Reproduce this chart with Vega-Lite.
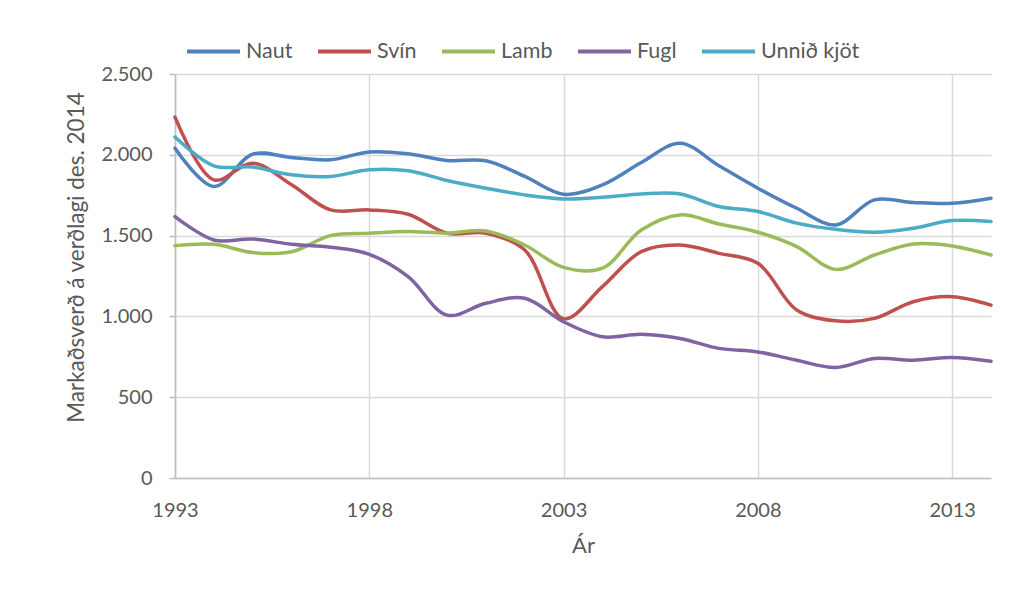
{
  "$schema": "https://vega.github.io/schema/vega-lite/v6.json",
  "width": 816,
  "height": 404,
  "autosize": {"type": "none"},
  "padding": {"left": 175, "top": 74, "right": 26, "bottom": 137},
  "background": "white",
  "config": {
    "locale": {"number": {"decimal": ",", "thousands": ".", "grouping": [3], "currency": ["", ""]}},
    "view": {"stroke": null},
    "font": "Lato"
  },
  "data": {
    "values": [
      {"year": 1993, "type": "Naut", "value": 2041},
      {"year": 1994, "type": "Naut", "value": 1804},
      {"year": 1995, "type": "Naut", "value": 2004},
      {"year": 1996, "type": "Naut", "value": 1983},
      {"year": 1997, "type": "Naut", "value": 1969},
      {"year": 1998, "type": "Naut", "value": 2017},
      {"year": 1999, "type": "Naut", "value": 2006},
      {"year": 2000, "type": "Naut", "value": 1965},
      {"year": 2001, "type": "Naut", "value": 1963},
      {"year": 2002, "type": "Naut", "value": 1866},
      {"year": 2003, "type": "Naut", "value": 1756},
      {"year": 2004, "type": "Naut", "value": 1814},
      {"year": 2005, "type": "Naut", "value": 1952},
      {"year": 2006, "type": "Naut", "value": 2072},
      {"year": 2007, "type": "Naut", "value": 1932},
      {"year": 2008, "type": "Naut", "value": 1793},
      {"year": 2009, "type": "Naut", "value": 1669},
      {"year": 2010, "type": "Naut", "value": 1566},
      {"year": 2011, "type": "Naut", "value": 1721},
      {"year": 2012, "type": "Naut", "value": 1705},
      {"year": 2013, "type": "Naut", "value": 1700},
      {"year": 2014, "type": "Naut", "value": 1731},
      {"year": 1993, "type": "Svín", "value": 2233},
      {"year": 1994, "type": "Svín", "value": 1845},
      {"year": 1995, "type": "Svín", "value": 1948},
      {"year": 1996, "type": "Svín", "value": 1815},
      {"year": 1997, "type": "Svín", "value": 1659},
      {"year": 1998, "type": "Svín", "value": 1659},
      {"year": 1999, "type": "Svín", "value": 1632},
      {"year": 2000, "type": "Svín", "value": 1515},
      {"year": 2001, "type": "Svín", "value": 1515},
      {"year": 2002, "type": "Svín", "value": 1411},
      {"year": 2003, "type": "Svín", "value": 985},
      {"year": 2004, "type": "Svín", "value": 1184},
      {"year": 2005, "type": "Svín", "value": 1401},
      {"year": 2006, "type": "Svín", "value": 1442},
      {"year": 2007, "type": "Svín", "value": 1390},
      {"year": 2008, "type": "Svín", "value": 1329},
      {"year": 2009, "type": "Svín", "value": 1040},
      {"year": 2010, "type": "Svín", "value": 973},
      {"year": 2011, "type": "Svín", "value": 988},
      {"year": 2012, "type": "Svín", "value": 1091},
      {"year": 2013, "type": "Svín", "value": 1122},
      {"year": 2014, "type": "Svín", "value": 1070},
      {"year": 1993, "type": "Lamb", "value": 1438},
      {"year": 1994, "type": "Lamb", "value": 1446},
      {"year": 1995, "type": "Lamb", "value": 1395},
      {"year": 1996, "type": "Lamb", "value": 1400},
      {"year": 1997, "type": "Lamb", "value": 1500},
      {"year": 1998, "type": "Lamb", "value": 1515},
      {"year": 1999, "type": "Lamb", "value": 1525},
      {"year": 2000, "type": "Lamb", "value": 1515},
      {"year": 2001, "type": "Lamb", "value": 1529},
      {"year": 2002, "type": "Lamb", "value": 1442},
      {"year": 2003, "type": "Lamb", "value": 1303},
      {"year": 2004, "type": "Lamb", "value": 1298},
      {"year": 2005, "type": "Lamb", "value": 1535},
      {"year": 2006, "type": "Lamb", "value": 1628},
      {"year": 2007, "type": "Lamb", "value": 1572},
      {"year": 2008, "type": "Lamb", "value": 1521},
      {"year": 2009, "type": "Lamb", "value": 1432},
      {"year": 2010, "type": "Lamb", "value": 1291},
      {"year": 2011, "type": "Lamb", "value": 1380},
      {"year": 2012, "type": "Lamb", "value": 1448},
      {"year": 2013, "type": "Lamb", "value": 1436},
      {"year": 2014, "type": "Lamb", "value": 1380},
      {"year": 1993, "type": "Fugl", "value": 1618},
      {"year": 1994, "type": "Fugl", "value": 1473},
      {"year": 1995, "type": "Fugl", "value": 1479},
      {"year": 1996, "type": "Fugl", "value": 1446},
      {"year": 1997, "type": "Fugl", "value": 1428},
      {"year": 1998, "type": "Fugl", "value": 1384},
      {"year": 1999, "type": "Fugl", "value": 1246},
      {"year": 2000, "type": "Fugl", "value": 1008},
      {"year": 2001, "type": "Fugl", "value": 1081},
      {"year": 2002, "type": "Fugl", "value": 1112},
      {"year": 2003, "type": "Fugl", "value": 967},
      {"year": 2004, "type": "Fugl", "value": 874},
      {"year": 2005, "type": "Fugl", "value": 890},
      {"year": 2006, "type": "Fugl", "value": 863},
      {"year": 2007, "type": "Fugl", "value": 802},
      {"year": 2008, "type": "Fugl", "value": 780},
      {"year": 2009, "type": "Fugl", "value": 729},
      {"year": 2010, "type": "Fugl", "value": 684},
      {"year": 2011, "type": "Fugl", "value": 740},
      {"year": 2012, "type": "Fugl", "value": 729},
      {"year": 2013, "type": "Fugl", "value": 746},
      {"year": 2014, "type": "Fugl", "value": 723},
      {"year": 1993, "type": "Unnið kjöt", "value": 2110},
      {"year": 1994, "type": "Unnið kjöt", "value": 1932},
      {"year": 1995, "type": "Unnið kjöt", "value": 1924},
      {"year": 1996, "type": "Unnið kjöt", "value": 1876},
      {"year": 1997, "type": "Unnið kjöt", "value": 1866},
      {"year": 1998, "type": "Unnið kjöt", "value": 1907},
      {"year": 1999, "type": "Unnið kjöt", "value": 1901},
      {"year": 2000, "type": "Unnið kjöt", "value": 1841},
      {"year": 2001, "type": "Unnið kjöt", "value": 1793},
      {"year": 2002, "type": "Unnið kjöt", "value": 1752},
      {"year": 2003, "type": "Unnið kjöt", "value": 1727},
      {"year": 2004, "type": "Unnið kjöt", "value": 1737},
      {"year": 2005, "type": "Unnið kjöt", "value": 1758},
      {"year": 2006, "type": "Unnið kjöt", "value": 1758},
      {"year": 2007, "type": "Unnið kjöt", "value": 1680},
      {"year": 2008, "type": "Unnið kjöt", "value": 1649},
      {"year": 2009, "type": "Unnið kjöt", "value": 1577},
      {"year": 2010, "type": "Unnið kjöt", "value": 1539},
      {"year": 2011, "type": "Unnið kjöt", "value": 1521},
      {"year": 2012, "type": "Unnið kjöt", "value": 1546},
      {"year": 2013, "type": "Unnið kjöt", "value": 1593},
      {"year": 2014, "type": "Unnið kjöt", "value": 1587}
    ]
  },
  "mark": {"type": "line", "interpolate": "catmull-rom", "strokeWidth": 3.5, "strokeCap": "round"},
  "encoding": {
    "x": {
      "field": "year",
      "type": "quantitative",
      "title": "Ár",
      "scale": {"domain": [1993, 2014], "nice": false, "zero": false},
      "axis": {
        "values": [1993, 1998, 2003, 2008, 2013],
        "format": "d",
        "grid": true,
        "gridColor": "#D9D9D9",
        "gridWidth": 1.5,
        "domainColor": "#BFBFBF",
        "domainWidth": 1.5,
        "ticks": false,
        "labelFlush": false,
        "labelPadding": 22,
        "labelFontSize": 20,
        "labelColor": "#595959",
        "titleFontSize": 22,
        "titleFontWeight": "normal",
        "titleColor": "#595959",
        "titlePadding": 15
      }
    },
    "y": {
      "field": "value",
      "type": "quantitative",
      "title": "Markaðsverð á verðlagi des. 2014",
      "scale": {"domain": [0, 2500], "nice": false},
      "axis": {
        "values": [0, 500, 1000, 1500, 2000, 2500],
        "format": ",d",
        "grid": true,
        "gridColor": "#D9D9D9",
        "gridWidth": 1.5,
        "domainColor": "#BFBFBF",
        "domainWidth": 1.5,
        "tickColor": "#BFBFBF",
        "tickSize": 6,
        "tickWidth": 1.5,
        "labelPadding": 17,
        "labelFontSize": 20,
        "labelColor": "#595959",
        "titleFontSize": 22.5,
        "titleFontWeight": "normal",
        "titleColor": "#595959",
        "titleX": -87,
        "titleY": 183
      }
    },
    "color": {
      "field": "type",
      "type": "nominal",
      "scale": {
        "domain": ["Naut", "Svín", "Lamb", "Fugl", "Unnið kjöt"],
        "range": ["#4F81BD", "#C0504D", "#9BBB59", "#8064A2", "#4BACC6"]
      },
      "legend": {
        "title": null,
        "orient": "none",
        "direction": "horizontal",
        "padding": 0,
        "legendX": 10,
        "legendY": -51,
        "symbolType": "stroke",
        "symbolSize": 2809,
        "symbolStrokeWidth": 4,
        "labelFontSize": 21.5,
        "labelColor": "#595959",
        "labelOffset": 4,
        "columnPadding": 17
      }
    }
  }
}
